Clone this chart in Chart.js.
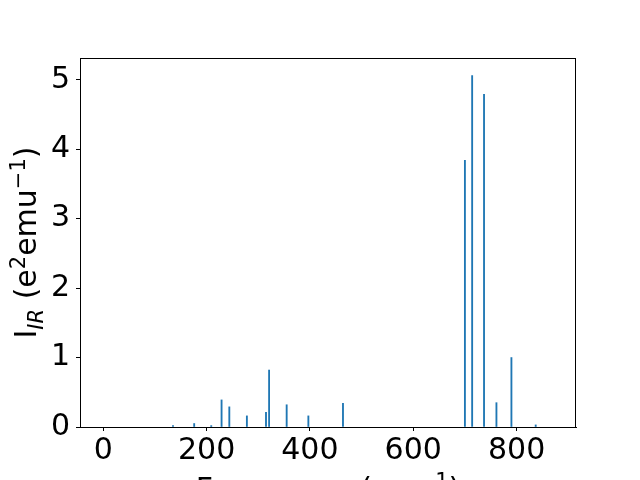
<!DOCTYPE html>
<html>
<head>
<meta charset="utf-8">
<script src="https://cdn.jsdelivr.net/npm/chart.js@4"></script>
<style>
  html, body { margin: 0; padding: 0; background: #fff; overflow: hidden; }
  canvas { display: block; }
</style>
</head>
<body>
<canvas id="chartIR" width="640" height="480"></canvas>
<script>
// frequencies (cm^-1) and IR intensities
const freqs = [135, 176, 209, 229, 244, 278, 315, 321, 355, 397, 464, 700, 714, 737, 761, 790, 837];
const intens = [0.02, 0.05, 0.02, 0.39, 0.29, 0.16, 0.21, 0.82, 0.32, 0.16, 0.34, 3.84, 5.06, 4.79, 0.35, 1.00, 0.03];
const xTicks = [0, 200, 400, 600, 800];
const yTicks = [0, 1, 2, 3, 4, 5];

const FONT = "DejaVu Sans";
const FS = 30;

// draw text made of pieces (sub/superscripts)
function drawParts(ctx, parts, cx, cy) {
  let total = 0;
  parts.forEach(p => {
    ctx.font = (p.italic ? "italic " : "") + p.size + "px '" + FONT + "'";
    p.w = ctx.measureText(p.t).width;
    total += p.w;
  });
  let x = cx - total / 2;
  ctx.textBaseline = "alphabetic";
  ctx.textAlign = "left";
  ctx.fillStyle = "#000";
  parts.forEach(p => {
    ctx.font = (p.italic ? "italic " : "") + p.size + "px '" + FONT + "'";
    ctx.fillText(p.t, x, cy + (p.dy || 0));
    x += p.w;
  });
}

const small = Math.round(FS * 0.7);

const yTitle = [
  { t: "I", size: FS },
  { t: "IR", size: small, italic: true, dy: 7 },
  { t: " (e", size: FS },
  { t: "2", size: small, dy: -11 },
  { t: "emu", size: FS },
  { t: "\u22121", size: small, dy: -11 },
  { t: ")", size: FS }
];

const xTitle = [
  { t: "Frequency (cm", size: FS },
  { t: "\u22121", size: small, dy: -11 },
  { t: ")", size: FS }
];

const framePlugin = {
  id: "frame",
  afterDraw(chart) {
    const { ctx, chartArea: a } = chart;
    ctx.save();
    ctx.strokeStyle = "#000";
    ctx.lineWidth = 1;
    ctx.strokeRect(Math.round(a.left) + 0.5, Math.round(a.top) + 0.5,
      Math.round(a.right - a.left) - 1, Math.round(a.bottom - a.top));
    ctx.restore();

    // y axis title, rotated
    ctx.save();
    ctx.translate(35.5, (a.top + a.bottom) / 2);
    ctx.rotate(-Math.PI / 2);
    drawParts(ctx, yTitle, 0, 0);
    ctx.restore();

    // x axis title (runs past the bottom edge)
    ctx.save();
    drawParts(ctx, xTitle, (a.left + a.right) / 2, 499);
    ctx.restore();
  }
};

Chart.defaults.font.family = FONT;
Chart.defaults.color = "#000";

new Chart(document.getElementById("chartIR"), {
  type: "bar",
  data: {
    datasets: [{
      data: freqs.map((f, i) => ({ x: f, y: intens[i] })),
      backgroundColor: "#1f77b4",
      borderWidth: 0,
      barThickness: 1.2
    }]
  },
  options: {
    responsive: false,
    animation: false,
    plugins: { legend: { display: false }, tooltip: { enabled: false } },
    layout: { padding: { left: 0, top: 58, right: 64, bottom: 0 } },
    scales: {
      x: {
        type: "linear",
        min: -45,
        max: 915,
        offset: false,
        afterBuildTicks: s => { s.ticks = xTicks.map(v => ({ value: v })); },
        afterFit: s => { s.height = 53; },
        grid: { display: true, offset: false, drawOnChartArea: false, drawTicks: true, tickLength: 4, color: "#000" },
        border: { display: true, color: "#000", width: 1 },
        ticks: { font: { size: FS }, padding: 2, maxRotation: 0, autoSkip: false }
      },
      y: {
        min: 0,
        max: 5.313,
        afterBuildTicks: s => { s.ticks = yTicks.map(v => ({ value: v })); },
        afterFit: s => { s.width = 80; },
        grid: { display: true, drawOnChartArea: false, drawTicks: true, tickLength: 4, color: "#000" },
        border: { display: true, color: "#000", width: 1 },
        ticks: { font: { size: FS }, padding: 6 }
      }
    }
  },
  plugins: [framePlugin]
});
</script>
</body>
</html>
